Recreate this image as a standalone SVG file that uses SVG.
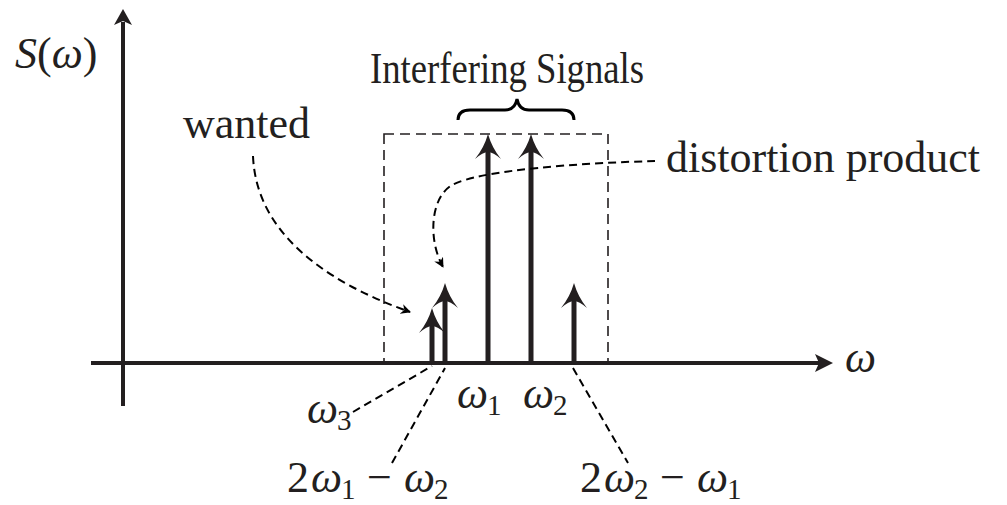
<svg xmlns="http://www.w3.org/2000/svg" width="1007" height="505" viewBox="0 0 1007 505">
<defs>
<style>
.txt{font-family:"Liberation Serif","Times New Roman",serif;font-size:44px;fill:#231f20}
.math{font-family:"Liberation Serif","Times New Roman",serif;font-size:44px;fill:#231f20}
.it{font-style:italic}
.sub{font-family:"Liberation Serif","Times New Roman",serif;font-size:29px;fill:#231f20}
.axis{stroke:#231f20;stroke-width:4;fill:none}
.stem{stroke:#231f20;stroke-width:5;fill:none}
.dash{stroke:#000;stroke-width:2;fill:none;stroke-dasharray:8 5}
.box{stroke:#231f20;stroke-width:1.6;fill:none;stroke-dasharray:10 6}
.head{fill:#231f20}
</style>
<marker id="sm" viewBox="0 0 10 10" refX="9" refY="5" markerWidth="10" markerHeight="10" markerUnits="userSpaceOnUse" orient="auto">
<path d="M0,0 L10,5 L0,10 L3,5 Z" fill="#000"/>
</marker>
<path id="bighead" d="M0,0 Q4,14 13,25 Q5,18 0,18 Q-5,18 -13,25 Q-4,14 0,0 Z"/>
</defs>

<g id="axes">
<line class="axis" x1="123" y1="406" x2="123" y2="22"/>
<path class="head" d="M123,9 L132,25 L123,21 L114,25 Z"/>
<line class="axis" x1="91" y1="363" x2="820" y2="363"/>
<path class="head" d="M833,363 L815,372 L819,363 L815,354 Z"/>
</g>

<g id="box">
<rect class="box" x="384" y="134" width="224" height="229"/>
</g>

<g id="arrows">
<line class="stem" x1="432" y1="363" x2="432" y2="320"/>
<use href="#bighead" class="head" x="432" y="308"/>
<line class="stem" x1="445" y1="363" x2="445" y2="295"/>
<use href="#bighead" class="head" x="445" y="283"/>
<line class="stem" x1="488" y1="363" x2="488" y2="146"/>
<use href="#bighead" class="head" x="488" y="134"/>
<line class="stem" x1="531" y1="363" x2="531" y2="146"/>
<use href="#bighead" class="head" x="531" y="134"/>
<line class="stem" x1="574" y1="363" x2="574" y2="295"/>
<use href="#bighead" class="head" x="574" y="283"/>
</g>

<g id="connectors">
<path class="dash" d="M253,156 C256,230 320,280 410,312" marker-end="url(#sm)"/>
<path class="dash" d="M655,161 C580,163 480,170 452,185 C430,198 428,240 443,267" marker-end="url(#sm)"/>
<line class="dash" x1="353" y1="412" x2="432" y2="366"/>
<line class="dash" x1="392" y1="463" x2="445" y2="368"/>
<line class="dash" x1="573" y1="368" x2="628" y2="463"/>
<path d="M458,120 Q458,110 470,110 L505,110 Q515,110 517,99 Q519,110 529,110 L562,110 Q574,110 574,120" stroke="#000" stroke-width="3" fill="none"/>
</g>

<g id="labels">
<text class="math" x="15" y="68" font-size="42"><tspan class="it">S</tspan>(<tspan class="it">ω</tspan>)</text>
<text class="txt" x="370" y="83" font-size="40" textLength="274" lengthAdjust="spacingAndGlyphs">Interfering Signals</text>
<text class="txt" x="183" y="138" font-size="45">wanted</text>
<text class="txt" x="666" y="172" font-size="43">distortion product</text>
<text class="math it" x="845" y="372">ω</text>
<text class="math it" x="307" y="423">ω</text><text class="sub" x="337" y="430">3</text>
<text class="math it" x="457" y="408">ω</text><text class="sub" x="487" y="415">1</text>
<text class="math it" x="523" y="408">ω</text><text class="sub" x="553" y="415">2</text>
<text class="math" x="287" y="492">2</text><text class="math it" x="311" y="492">ω</text><text class="sub" x="341" y="499">1</text><text class="math" x="367" y="492">−</text><text class="math it" x="404" y="492">ω</text><text class="sub" x="434" y="499">2</text>
<text class="math" x="580" y="492">2</text><text class="math it" x="604" y="492">ω</text><text class="sub" x="634" y="499">2</text><text class="math" x="660" y="492">−</text><text class="math it" x="697" y="492">ω</text><text class="sub" x="727" y="499">1</text>
</g>
</svg>
